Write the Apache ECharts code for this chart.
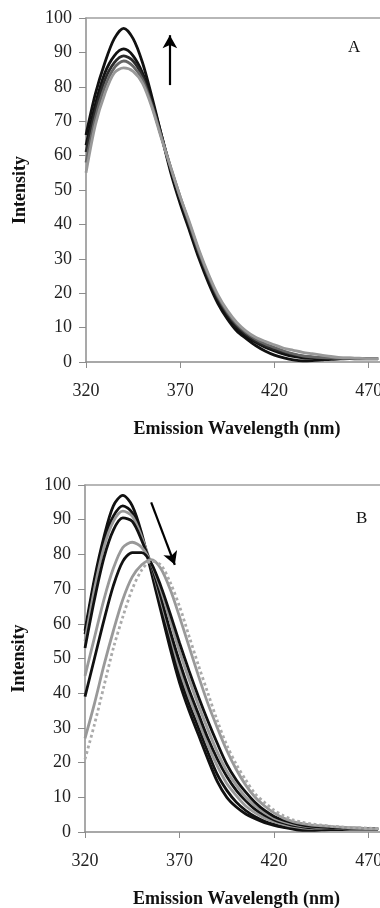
<!DOCTYPE html>
<html>
<head>
<meta charset="utf-8">
<script src="https://cdn.jsdelivr.net/npm/echarts@6/dist/echarts.min.js"></script>
<style>
  html, body { margin: 0; padding: 0; background: #fff; }
  #chart { width: 380px; height: 908px; }
</style>
</head>
<body>
<div id="chart"></div>
<script>
// emission wavelength (nm)
var wavelengths = [320, 325, 330, 335, 340, 345, 350, 355, 360, 365, 370, 375, 380, 385, 390, 395,
                   400, 405, 410, 415, 420, 425, 430, 435, 440, 445, 450, 455, 460, 465, 470, 475];

// panel A - intensity rises (arrow up)
var a1 = [66, 78, 87, 94, 97, 94, 87, 77, 66, 55, 46, 38, 30, 23, 17, 12.5, 9, 6.8, 4.8, 3.2, 2, 1.2, 0.6, 0.3, 0.4, 0.6, 0.8, 0.9, 1, 1, 1, 1];
var a2 = [63, 75, 84, 89, 91, 89, 84, 76, 66, 56, 47, 39, 31, 24, 18, 13.5, 10, 7.5, 5.7, 4.3, 3.2, 2.3, 1.6, 1.2, 1.1, 1, 1, 1, 1, 0.9, 0.9, 0.9];
var a3 = [61, 73, 82, 87, 89, 87.5, 83, 75, 65.5, 56, 47.5, 39.5, 31.5, 24.5, 18.5, 14, 10.5, 8, 6.2, 4.8, 3.7, 2.9, 2.2, 1.7, 1.4, 1.2, 1.1, 1, 1, 1, 1, 1];
var a4 = [58, 71, 80, 85.5, 87.5, 86, 82, 74.5, 65.5, 56.5, 48, 40, 32, 25, 19, 14.5, 11, 8.5, 6.7, 5.3, 4.2, 3.2, 2.4, 1.8, 1.5, 1.3, 1.2, 1.1, 1.1, 1, 1, 1];
var a5 = [55, 69, 78, 84, 85.5, 84.5, 81, 74, 65, 56.5, 48, 40.5, 32.5, 25.5, 19.5, 15, 11.5, 9, 7.2, 6, 5, 4, 3.4, 2.8, 2.4, 2, 1.6, 1.3, 1.2, 1.1, 1, 1];

// panel B - intensity drops and red shifts (arrow down)
var b1 = [58, 73, 85, 94, 97, 94, 86, 75, 64, 53, 43, 35, 28, 21, 14.5, 10, 7.2, 5.2, 3.8, 2.7, 1.9, 1.3, 0.8, 0.5, 0.5, 0.6, 0.7, 0.7, 0.8, 0.8, 0.8, 0.8];
var b2 = [57, 72, 84, 91, 94, 92, 85, 76, 65, 55, 45, 37, 30, 23, 16.5, 12, 8.6, 6.2, 4.4, 3.1, 2.2, 1.5, 1.1, 0.8, 0.8, 0.8, 0.9, 0.9, 0.9, 0.9, 0.9, 0.9];
var b3 = [55, 70, 82, 89.5, 92.5, 91, 85, 77, 67, 57, 47, 39, 32, 25, 19, 14, 10.5, 7.5, 5.5, 4, 3, 2.2, 1.6, 1.2, 1, 1, 1, 1, 1, 1, 1, 1];
var b4 = [53, 67, 79, 87, 90.5, 89.5, 84, 77, 68, 58, 49, 41, 34, 27, 21, 16, 12, 9, 6.5, 4.8, 3.5, 2.6, 1.9, 1.5, 1.2, 1.1, 1, 1, 1, 1, 1, 1];
var b5 = [45, 56, 67, 76, 82, 83.5, 82, 77.5, 70, 61, 52, 44, 36.5, 29.5, 23, 17.5, 13.5, 10, 7.5, 5.5, 4, 3, 2.3, 1.8, 1.5, 1.3, 1.2, 1.1, 1.1, 1, 1, 1];
var b6 = [39, 50, 61, 71, 78, 80.5, 80.5, 77.5, 71, 63, 54.5, 46.5, 39, 32, 25.5, 19.5, 15, 11.5, 8.5, 6.2, 4.5, 3.4, 2.6, 2, 1.6, 1.4, 1.3, 1.2, 1.1, 1.1, 1, 1];
var b7 = [27, 37, 48, 58, 67, 73.5, 77, 78.5, 76, 70, 62, 53.5, 45, 37, 30, 23.5, 18, 13.5, 10, 7.5, 5.5, 4, 3, 2.4, 2, 1.8, 1.6, 1.4, 1.2, 1.1, 1, 1];
var b8 = [21, 31, 42, 53, 62, 70, 75.5, 78, 77, 72, 65, 56.5, 48, 40, 32, 25, 19.5, 15, 11, 8.5, 6.3, 4.7, 3.5, 2.8, 2.3, 2, 1.7, 1.5, 1.3, 1.2, 1.1, 1];

var xTicks = [320, 370, 420, 470];

var serif = '"Liberation Serif", "Times New Roman", serif';
var axisGrey = '#8c8c8c';

function pairs(ys) {
    return wavelengths.map(function (x, i) { return [x, ys[i]]; });
}

function curve(name, ys, gridIdx, color, dashed) {
    return {
        name: name,
        type: 'line',
        xAxisIndex: gridIdx * 2,
        yAxisIndex: gridIdx,
        data: pairs(ys),
        smooth: 0.3,
        symbol: 'none',
        silent: true,
        lineStyle: { color: color, width: 2.8, type: dashed ? 'dotted' : 'solid' },
        z: 3
    };
}

function bottomX(gridIdx) {
    return {
        type: 'value', gridIndex: gridIdx, position: 'bottom',
        min: 320, max: 476, interval: 50,
        name: 'Emission Wavelength (nm)', nameLocation: 'middle', nameGap: 58,
        nameTextStyle: { fontFamily: serif, fontWeight: 'bold', fontSize: 18, color: '#111', padding: [0, 0, 0, 8] },
        axisLine: { show: true, lineStyle: { color: axisGrey, width: 1.5 } },
        axisTick: { show: true, length: 6, customValues: xTicks, lineStyle: { color: axisGrey } },
        axisLabel: { customValues: xTicks, margin: 20, fontFamily: serif, fontSize: 18, color: '#222' },
        splitLine: { show: false }
    };
}

function topX(gridIdx) {
    return {
        type: 'value', gridIndex: gridIdx, position: 'top',
        min: 320, max: 476,
        axisLine: { show: true, onZero: false, lineStyle: { color: '#a0a0a0', width: 1.5 } },
        axisTick: { show: false }, axisLabel: { show: false }, splitLine: { show: false }
    };
}

function leftY(gridIdx) {
    return {
        type: 'value', gridIndex: gridIdx,
        min: 0, max: 100, interval: 10,
        name: 'Intensity', nameLocation: 'middle', nameGap: 57,
        nameTextStyle: { fontFamily: serif, fontWeight: 'bold', fontSize: 18, color: '#111' },
        axisLine: { show: true, lineStyle: { color: axisGrey, width: 1.5 } },
        axisTick: { show: true, length: 7, lineStyle: { color: axisGrey } },
        axisLabel: { margin: 14, fontFamily: serif, fontSize: 18, color: '#222' },
        splitLine: { show: false }
    };
}

function arrow(from, to) {
    return {
        silent: true,
        symbol: ['none', 'arrow'],
        symbolSize: [11, 13],
        label: { show: false },
        lineStyle: { color: '#000', width: 2.2, type: 'solid' },
        data: [[{ coord: from }, { coord: to }]]
    };
}

var seriesA = [
    curve('A1', a1, 0, '#111'),
    curve('A2', a2, 0, '#111'),
    curve('A3', a3, 0, '#2a2a2a'),
    curve('A4', a4, 0, '#666'),
    curve('A5', a5, 0, '#999')
];
seriesA[0].markLine = arrow([364.5, 80.5], [364.5, 95]);

var seriesB = [
    curve('B1', b1, 1, '#111'),
    curve('B2', b2, 1, '#111'),
    curve('B3', b3, 1, '#999'),
    curve('B4', b4, 1, '#111'),
    curve('B5', b5, 1, '#999'),
    curve('B6', b6, 1, '#111'),
    curve('B7', b7, 1, '#999'),
    curve('B8', b8, 1, '#aaa', true)
];
seriesB[0].markLine = arrow([355, 95], [367.5, 77]);

var chart = echarts.init(document.getElementById('chart'), null, { renderer: 'canvas' });
chart.setOption({
    animation: false,
    backgroundColor: '#fff',
    grid: [
        { left: 86, top: 18, width: 294, height: 344, outerBoundsMode: 'none' },
        { left: 85, top: 485, width: 295, height: 347, outerBoundsMode: 'none' }
    ],
    xAxis: [bottomX(0), topX(0), bottomX(1), topX(1)],
    yAxis: [leftY(0), leftY(1)],
    graphic: [
        { type: 'text', left: 348, top: 39, style: { text: 'A', font: '17px ' + serif, fill: '#111' } },
        { type: 'text', left: 356, top: 510, style: { text: 'B', font: '17px ' + serif, fill: '#111' } }
    ],
    series: seriesA.concat(seriesB)
});
</script>
</body>
</html>
